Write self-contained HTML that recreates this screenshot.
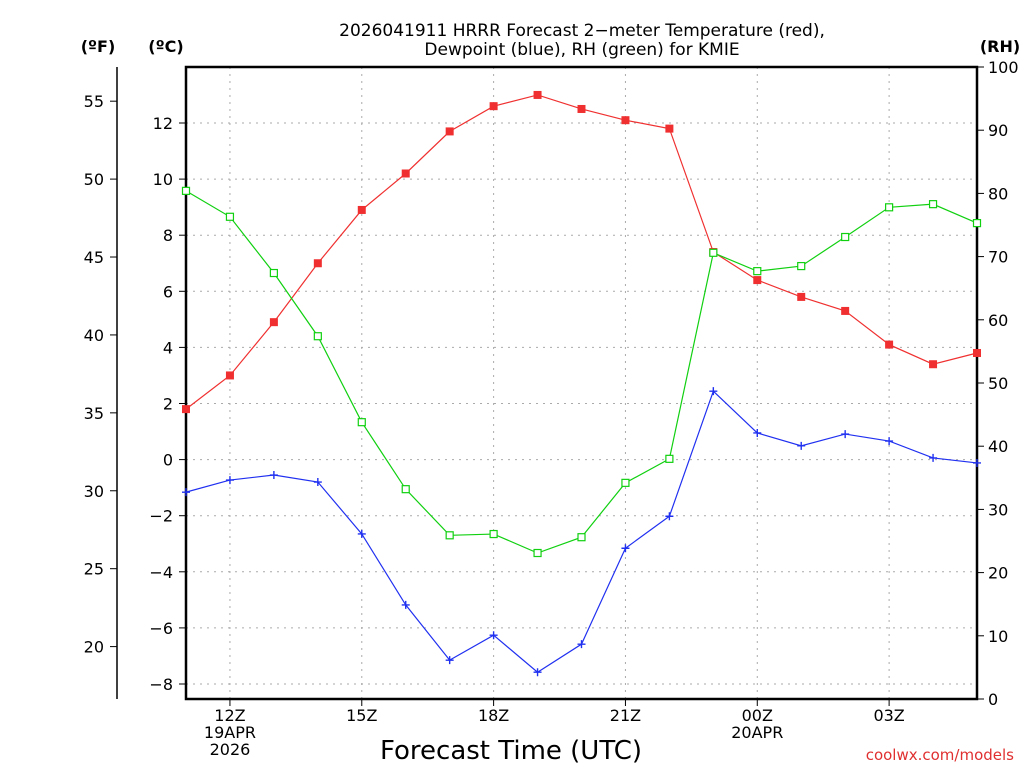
<!DOCTYPE html>
<html><head><meta charset="utf-8"><style>
body{margin:0;background:#fff;}
svg text{font-family:"DejaVu Sans","Liberation Sans",sans-serif;}
</style></head><body>
<svg id="c" width="1024" height="768" xmlns="http://www.w3.org/2000/svg">
<text x="582" y="36" font-size="17" text-anchor="middle">2026041911 HRRR Forecast 2−meter Temperature (red),</text>
<text x="582" y="55" font-size="17" text-anchor="middle">Dewpoint (blue), RH (green) for KMIE</text>
<text x="98" y="52" font-size="16" font-weight="bold" text-anchor="middle">(ºF)</text>
<text x="166" y="52" font-size="16" font-weight="bold" text-anchor="middle">(ºC)</text>
<text x="1000" y="52" font-size="16" font-weight="bold" text-anchor="middle">(RH)</text>
<text x="511" y="759" font-size="26" text-anchor="middle">Forecast Time (UTC)</text>
<text x="1014" y="760" font-size="15" fill="#e03030" text-anchor="end">coolwx.com/models</text>
<g id="grid"></g><g id="axes"></g><g id="series"></g>
</svg>
<script>
const hours=["11","12","13","14","15","16","17","18","19","20","21","22","23","00","01","02","03","04","05"];
const tempC=[1.8,3.0,4.9,7.0,8.9,10.2,11.7,12.6,13.0,12.5,12.1,11.8,7.4,6.4,5.8,5.3,4.1,3.4,3.8];
const dewC=[-1.16,-0.73,-0.55,-0.8,-2.65,-5.18,-7.15,-6.26,-7.58,-6.58,-3.16,-2.02,2.44,0.95,0.49,0.91,0.66,0.06,-0.12];
const rh=[80.4,76.3,67.4,57.4,43.8,33.2,25.9,26.1,23.1,25.6,34.2,38.0,70.6,67.7,68.5,73.1,77.8,78.3,75.3];
const cTicks=[-8,-6,-4,-2,0,2,4,6,8,10,12];
const fTicks=[20,25,30,35,40,45,50,55];
const rhTicks=[0,10,20,30,40,50,60,70,80,90,100];
const xLabels=[[1,"12Z","19APR","2026"],[4,"15Z"],[7,"18Z"],[10,"21Z"],[13,"00Z","20APR"],[16,"03Z"]];
const L=186,R=977,T=67,B=699;
const x=i=>L+i*(R-L)/(hours.length-1);
const yC=c=>459.6-c*28.05;
const yF=f=>yC((f-32)*5/9);
const yR=r=>B-r*(B-T)/100;
const NS="http://www.w3.org/2000/svg";
function mk(p,t,a){const e=document.createElementNS(NS,t);for(const k in a)e.setAttribute(k,a[k]);document.getElementById(p).appendChild(e);return e;}
cTicks.forEach(c=>{const y=yC(c);
const g=mk('grid','line',{x1:L,x2:R,y1:y,y2:y,stroke:'#aaa','stroke-dasharray':'2 5'});


mk('axes','line',{x1:L-7,x2:L,y1:y,y2:y,stroke:'#000'});
const t=mk('axes','text',{x:L-13,y:y+6,'font-size':16,'text-anchor':'end'});t.textContent=(c<0?'−'+(-c):c);

});
xLabels.forEach(l=>{const xx=x(l[0]);
const g=mk('grid','line',{x1:xx,x2:xx,y1:T,y2:B,stroke:'#aaa','stroke-dasharray':'2 5'});


mk('axes','line',{x1:xx,x2:xx,y1:B,y2:B+7,stroke:'#000'});
for(let k=1;k<l.length;k++){const t=mk('axes','text',{x:xx,y:B+22+(k-1)*17,'font-size':16,'text-anchor':'middle'});t.textContent=l[k];

}});
fTicks.forEach(f=>{const y=yF(f);
mk('axes','line',{x1:110,x2:117,y1:y,y2:y,stroke:'#000'});
const t=mk('axes','text',{x:104,y:y+6,'font-size':16,'text-anchor':'end'});t.textContent=f;

});
mk('axes','line',{x1:117,x2:117,y1:T,y2:B,stroke:'#000','stroke-width':1.5});
rhTicks.forEach(r=>{const y=yR(r);
mk('axes','line',{x1:R,x2:R+7,y1:y,y2:y,stroke:'#000'});
const t=mk('axes','text',{x:R+11,y:y+6,'font-size':16});t.textContent=r;

});
const fr=mk('axes','rect',{x:L,y:T,width:R-L,height:B-T,fill:'none',stroke:'#000','stroke-width':2.5});


function line(vals,f,col,name){
const p=mk('series','polyline',{points:vals.map((v,i)=>x(i)+','+f(v)).join(' '),fill:'none',stroke:col,'stroke-width':1.2});

}
line(tempC,yC,'#f03030','temperature');
line(dewC,yC,'#2030f0','dewpoint');
line(rh,yR,'#10d010','rh');
tempC.forEach((v,i)=>{const m=mk('series','rect',{x:x(i)-4,y:yC(v)-4,width:8,height:8,fill:'#f03030'});

});
rh.forEach((v,i)=>{const m=mk('series','rect',{x:x(i)-3.5,y:yR(v)-3.5,width:7,height:7,fill:'#fff',stroke:'#10d010','stroke-width':1.2});

});
dewC.forEach((v,i)=>{const m=mk('series','path',{d:`M${x(i)-4},${yC(v)}h8M${x(i)},${yC(v)-4}v8`,stroke:'#2030f0','stroke-width':1.4});

});
</script>
</body></html>
